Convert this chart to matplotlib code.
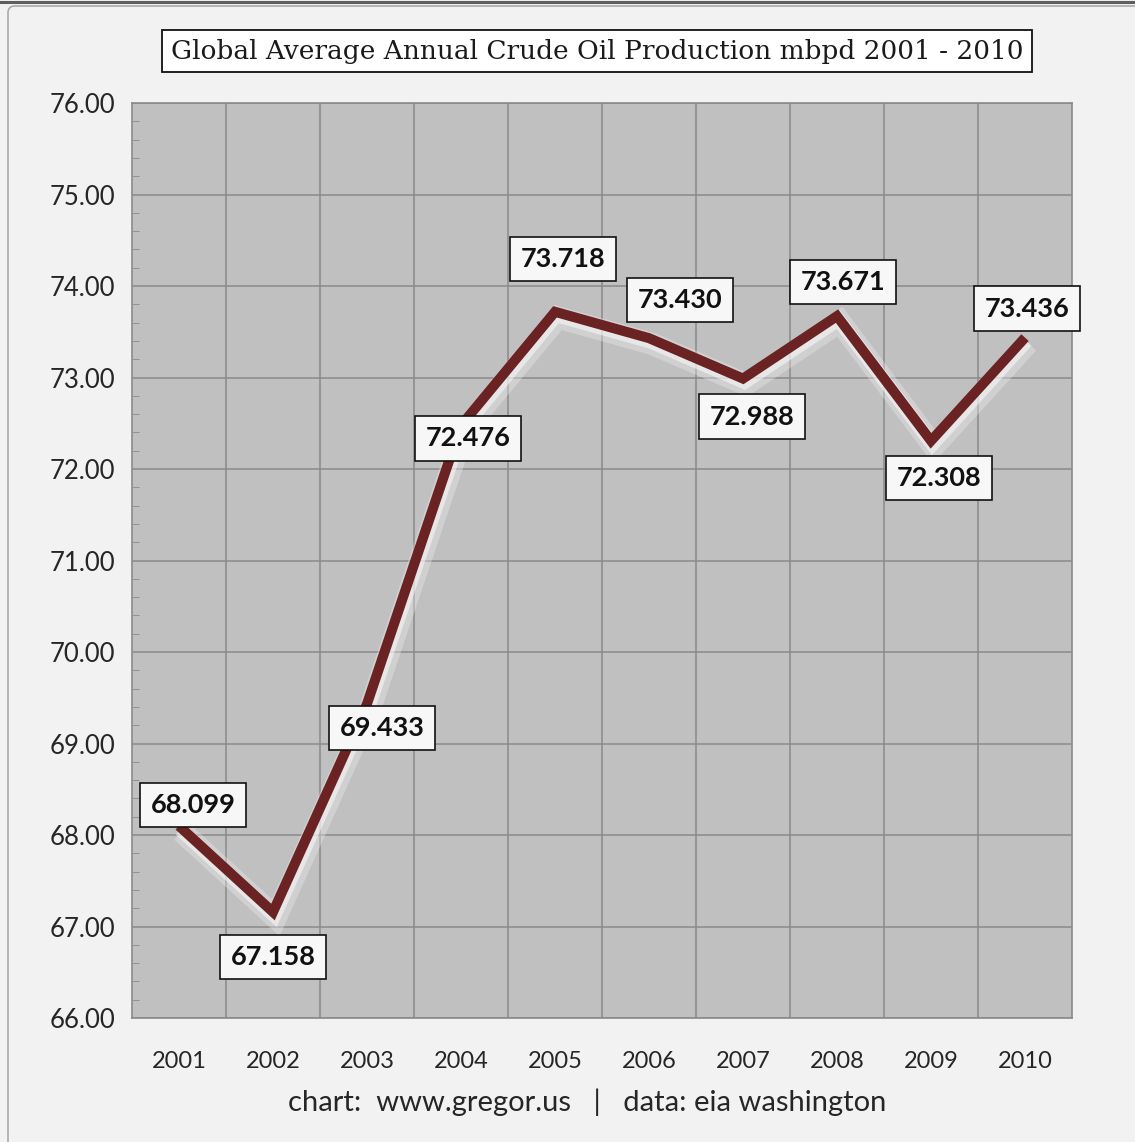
import matplotlib.pyplot as plt
import matplotlib.patheffects as pe
from matplotlib.patches import FancyBboxPatch
from matplotlib.lines import Line2D
from matplotlib.ticker import MultipleLocator, FixedLocator

# average annual crude oil production, million barrels per day
years = ['2001', '2002', '2003', '2004', '2005', '2006', '2007', '2008', '2009', '2010']
mbpd = [68.099, 67.158, 69.433, 72.476, 73.718, 73.430, 72.988, 73.671, 72.308, 73.436]
y_ticks = [66, 67, 68, 69, 70, 71, 72, 73, 74, 75, 76]

# where each value box sits relative to its point (pixels)
label_shift = [(14, 21), (0, -45), (15, -24), (7, -13), (8, 53),
               (31, 38), (9, -38), (6, 34), (8, -37), (2, 29)]

W, H = 1135, 1142
fig = plt.figure(figsize=(W / 100, H / 100), dpi=100)
fig.patch.set_facecolor('#f2f2f2')

# outer frame of the chart
frame = FancyBboxPatch((8 / W, -0.05), 1.2, 1.05 - 6 / H,
                       boxstyle='round,pad=0,rounding_size=0.006',
                       transform=fig.transFigure, facecolor='#f2f2f2',
                       edgecolor='#a9a9a9', linewidth=1.2, zorder=-10)
fig.add_artist(frame)
fig.add_artist(Line2D([0, 1], [1 - 1.5 / H, 1 - 1.5 / H], transform=fig.transFigure,
                      color='#5e5e5e', linewidth=2.2, zorder=-5))

ax = fig.add_axes([132 / W, 124 / H, 940 / W, 915 / H])
ax.set_facecolor('#c0c0c0')
for s in ax.spines.values():
    s.set_color('#8a8a8a')
    s.set_linewidth(1.2)

x = list(range(len(years)))
line, = ax.plot(x, mbpd, color='#6a2222', linewidth=7.2, solid_joinstyle='miter',
                solid_capstyle='butt', zorder=4)
line.set_path_effects([
    pe.SimpleLineShadow(offset=(2, -4), shadow_color='#f0f0f0', alpha=0.35, linewidth=16),
    pe.SimpleLineShadow(offset=(1, -2.5), shadow_color='#ffffff', alpha=0.5, linewidth=10),
    pe.Normal(),
])

ax.set_xticks(x)
ax.set_xticklabels(years)
ax.xaxis.set_minor_locator(FixedLocator([i + 0.5 for i in x[:-1]]))
ax.set_yticks(y_ticks)
ax.set_yticklabels([f'{v:.2f}' for v in y_ticks])
ax.yaxis.set_minor_locator(MultipleLocator(0.2))
ax.set_xlim(-0.5, len(years) - 0.5)
ax.set_ylim(y_ticks[0], y_ticks[-1])

ax.grid(True, which='major', axis='y', color='#8a8a8a', linewidth=1.1)
ax.grid(True, which='minor', axis='x', color='#8a8a8a', linewidth=1.1)
ax.set_axisbelow(True)

ax.tick_params(axis='x', which='both', length=0, pad=24, labelsize=17,
               labelcolor='#262626')
ax.tick_params(axis='y', which='major', length=0, pad=12, labelsize=18.5,
               labelcolor='#262626')
ax.tick_params(axis='y', which='minor', direction='in', length=5, color='#8a8a8a')
for t in ax.get_xticklabels() + ax.get_yticklabels():
    t.set_family('Lato')

for xi, v, (dx, dy) in zip(x, mbpd, label_shift):
    ax.annotate(f'{v:.3f}', (xi, v), xytext=(dx * 0.72, dy * 0.72),
                textcoords='offset points', ha='center', va='center',
                fontsize=19.5, fontweight='bold', family='Lato', color='#111111',
                zorder=6,
                bbox=dict(boxstyle='square,pad=0.38', facecolor='#f7f7f7',
                          edgecolor='#111111', linewidth=1.2))

fig.text(597 / W, 1 - 51 / H, 'Global Average Annual Crude Oil Production mbpd 2001 - 2010',
         ha='center', va='center', fontsize=19, family='DejaVu Serif', color='#1a1a1a',
         bbox=dict(boxstyle='square,pad=0.34', facecolor='white', edgecolor='#111111',
                   linewidth=1.3))

fig.text(587 / W, 1 - 1102 / H, 'chart:  www.gregor.us   |   data: eia washington',
         ha='center', va='center', fontsize=21, family='Lato', color='#262626')

fig.savefig('out.png', dpi=100, facecolor=fig.get_facecolor())
